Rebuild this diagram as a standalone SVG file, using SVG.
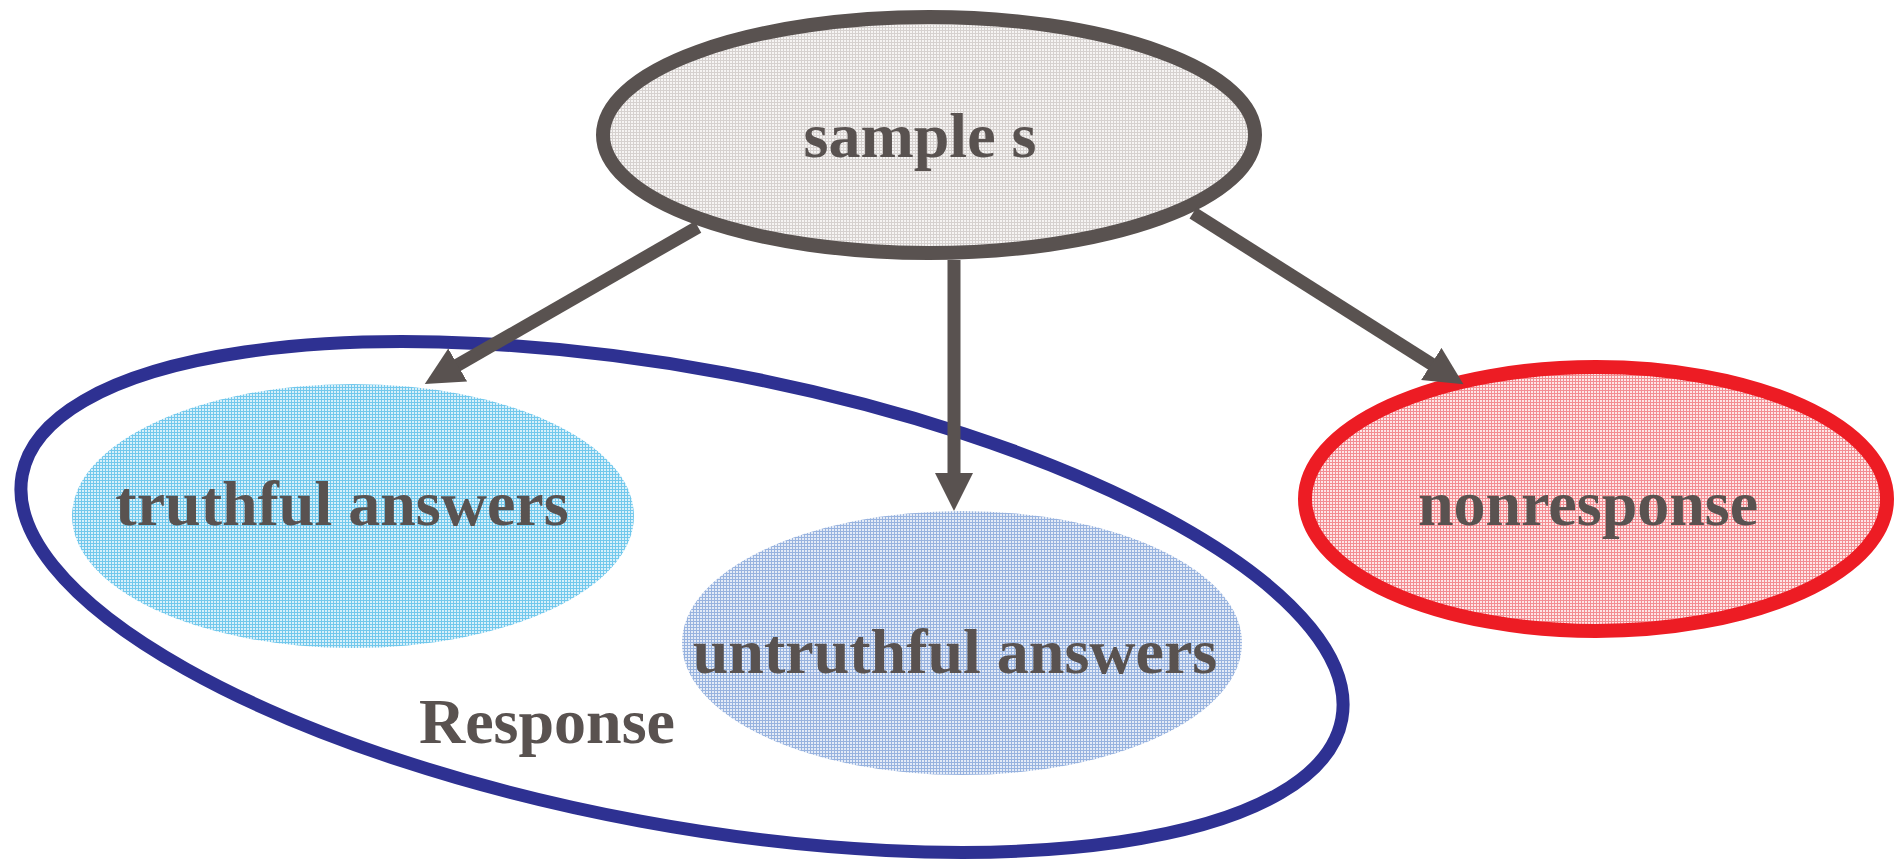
<svg xmlns="http://www.w3.org/2000/svg" width="1894" height="864" viewBox="0 0 1894 864">
<style>
.lbl{font-family:"Liberation Serif","Times New Roman",serif;font-weight:bold;font-size:64px;fill:#595250;text-anchor:middle}
.conn{stroke:#595250;stroke-width:13;fill:none;marker-end:url(#ah)}
</style>
<defs>
<pattern id="pGrey" width="3" height="3" patternUnits="userSpaceOnUse">
<rect width="3" height="3" fill="#f6f4f3"/>
<path d="M0,0.5H3M0.5,0V3" stroke="#d6d1cf" stroke-width="1"/>
</pattern>
<pattern id="pCyan" width="3" height="3" patternUnits="userSpaceOnUse">
<rect width="3" height="3" fill="#d8f0fa"/>
<path d="M0,0.5H3M0.5,0V3" stroke="#72c8ec" stroke-width="1"/>
</pattern>
<pattern id="pBlue" width="3" height="3" patternUnits="userSpaceOnUse">
<rect width="3" height="3" fill="#e4ebf7"/>
<path d="M0,0.5H3M0.5,0V3" stroke="#98b3df" stroke-width="1"/>
</pattern>
<pattern id="pRed" width="3" height="3" patternUnits="userSpaceOnUse">
<rect width="3" height="3" fill="#fde6e7"/>
<path d="M0,0.5H3M0.5,0V3" stroke="#f38d92" stroke-width="1"/>
</pattern>
<marker id="ah" markerUnits="userSpaceOnUse" markerWidth="42" markerHeight="42" refX="2" refY="19" orient="auto">
<path d="M0,0 L38,19 L0,38 Z" fill="#595250"/>
</marker>
</defs>
<g id="node-response">
<ellipse cx="682" cy="597" rx="671" ry="228" transform="rotate(10.5 682 597)" fill="none" stroke="#2e3192" stroke-width="13"/>
<text class="lbl" x="547" y="743">Response</text>
</g>
<g id="node-truthful">
<ellipse cx="353" cy="516" rx="281" ry="132" fill="url(#pCyan)"/>
<text class="lbl" x="342" y="525">truthful answers</text>
</g>
<g id="node-untruthful">
<ellipse cx="962" cy="643" rx="280" ry="132" fill="url(#pBlue)"/>
<text class="lbl" x="955" y="673">untruthful answers</text>
</g>
<g id="node-sample">
<ellipse cx="929" cy="135" rx="326" ry="118" fill="url(#pGrey)" stroke="#595250" stroke-width="14"/>
<text class="lbl" x="920" y="157">sample s</text>
</g>
<g id="node-nonresponse">
<ellipse cx="1596" cy="499" rx="291" ry="132" fill="url(#pRed)" stroke="#ed1c24" stroke-width="14"/>
<text class="lbl" x="1588" y="525">nonresponse</text>
</g>
<g id="connectors">
<path class="conn" d="M698,227 L456,366"/>
<path class="conn" d="M954,260 L954,475"/>
<path class="conn" d="M1193,213 L1433,365"/>
</g>
</svg>
